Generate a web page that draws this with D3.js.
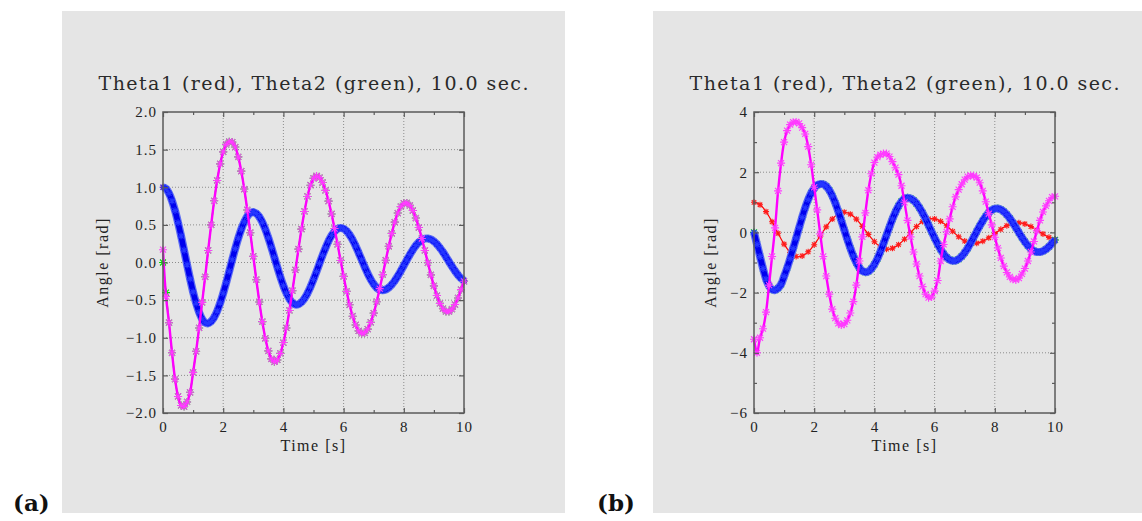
<!DOCTYPE html>
<html>
<head>
<meta charset="utf-8">
<script src="https://cdn.jsdelivr.net/npm/d3@7"></script>
<style>
  body { margin: 0; background: #fff; }
  svg { display: block; }
  .tick text { font-family: "Liberation Serif", serif; font-size: 15px; fill: #222; letter-spacing: 1px; }
  .lbl { font-family: "Liberation Serif", serif; fill: #222; }
  .title { font-family: "DejaVu Serif", serif; fill: #2a2a2a; }
</style>
</head>
<body>
<svg id="chart" width="1142" height="521"></svg>
<script>
// samples every 0.1 s
const tStep = 0.1;

const theta1 = [
  1.000, 0.979, 0.919, 0.820, 0.689, 0.530, 0.353, 0.163, -0.030, -0.218,
  -0.391, -0.541, -0.663, -0.752, -0.800, -0.809, -0.783, -0.728, -0.644, -0.536,
  -0.409, -0.267, -0.116, 0.037, 0.185, 0.322, 0.442, 0.540, 0.613, 0.657,
  0.670, 0.652, 0.607, 0.535, 0.440, 0.327, 0.201, 0.068, -0.065, -0.193,
  -0.309, -0.407, -0.484, -0.536, -0.559, -0.554, -0.527, -0.477, -0.409, -0.324,
  -0.226, -0.121, -0.012, 0.095, 0.195, 0.285, 0.359, 0.414, 0.448, 0.460,
  0.449, 0.418, 0.367, 0.300, 0.219, 0.129, 0.036, -0.058, -0.146, -0.224,
  -0.288, -0.336, -0.363, -0.370, -0.359, -0.333, -0.293, -0.242, -0.180, -0.112,
  -0.040, 0.033, 0.104, 0.168, 0.225, 0.269, 0.301, 0.317, 0.319, 0.306,
  0.280, 0.243, 0.194, 0.138, 0.076, 0.012, -0.051, -0.111, -0.165, -0.209,
  -0.242
];

const theta2 = [
  0.00, -0.40, -0.80, -1.20, -1.55, -1.78, -1.90, -1.915, -1.853, -1.725,
  -1.46, -1.18, -0.87, -0.53, -0.19, 0.16, 0.50, 0.82, 1.09, 1.31,
  1.47, 1.57, 1.605, 1.60, 1.534, 1.403, 1.214, 0.976, 0.698, 0.396,
  0.082, -0.229, -0.524, -0.786, -1.007, -1.175, -1.281, -1.320, -1.295, -1.208,
  -1.064, -0.870, -0.637, -0.375, -0.099, 0.178, 0.443, 0.678, 0.878, 1.027,
  1.119, 1.150, 1.128, 1.063, 0.958, 0.816, 0.645, 0.451, 0.242, 0.027,
  -0.184, -0.384, -0.562, -0.714, -0.830, -0.908, -0.943, -0.935, -0.885, -0.796,
  -0.673, -0.521, -0.347, -0.161, 0.030, 0.216, 0.387, 0.536, 0.657, 0.742,
  0.787, 0.792, 0.759, 0.691, 0.591, 0.465, 0.319, 0.160, -0.004, -0.164,
  -0.311, -0.439, -0.543, -0.614, -0.650, -0.651, -0.620, -0.559, -0.471, -0.361,
  -0.250
];

// the magenta trace of (a) follows theta2 except for its first two samples
const theta2FitStart = [0.17, -0.45];

const omega2 = [
  -3.55, -4.00, -3.50, -3.20, -2.65, -1.75, -0.80, 0.15, 1.38, 2.30,
  3.00, 3.38, 3.58, 3.66, 3.67, 3.62, 3.48, 3.27, 2.85, 2.25,
  1.50, 0.75, -0.05, -0.80, -1.45, -2.05, -2.55, -2.85, -3.02, -3.08,
  -3.05, -2.92, -2.68, -2.30, -1.75, -0.95, -0.15, 0.65, 1.40, 1.95,
  2.32, 2.50, 2.58, 2.62, 2.62, 2.52, 2.35, 2.15, 1.92, 1.55,
  1.00, 0.40, -0.15, -0.65, -1.05, -1.45, -1.80, -2.05, -2.17, -2.15,
  -1.95, -1.60, -0.95, -0.40, 0.02, 0.45, 0.85, 1.18, 1.42, 1.60,
  1.75, 1.85, 1.89, 1.88, 1.82, 1.65, 1.38, 1.02, 0.62, 0.25,
  -0.16, -0.52, -0.85, -1.12, -1.33, -1.48, -1.56, -1.58, -1.52, -1.38,
  -1.20, -0.95, -0.65, -0.30, 0.05, 0.40, 0.68, 0.88, 1.05, 1.17,
  1.20
];

const xTicks = [0, 2, 4, 6, 8, 10];
const xMinor = [1, 3, 5, 7, 9];
const yTicksA = [-2, -1.5, -1, -0.5, 0, 0.5, 1, 1.5, 2];
const yTicksB = [-6, -4, -2, 0, 2, 4];
const yMinorB = [-5, -3, -1, 1, 3];

const titleText = "Theta1 (red), Theta2 (green), 10.0 sec.";
const xLabel = "Time [s]";
const yLabel = "Angle [rad]";

const time = theta1.map((_, i) => +(i * tStep).toFixed(1));
const theta2Fit = theta2.map((v, i) => i < theta2FitStart.length ? theta2FitStart[i] : v);

const svg = d3.select("#chart");

const panels = [
  {
    tag: "(a)", tagX: 13, bg: [62, 11, 503, 502], plot: [163, 112, 464, 413],
    yDomain: [-2, 2], yTicks: yTicksA, yMinor: [], yFormat: d3.format(".1f"), yLabelX: 108,
    series: [
      { values: theta1, color: "#ff0000", width: 1.2, r: 3 },
      { values: theta2, color: "#00e000", width: 1.4, r: 4 },
      { values: theta1, color: "#0000ee", width: 5.5, halo: "#5c6cf2", r: 3.4, mark: "#2536ff" },
      { values: theta2Fit, color: "#ff00ff", width: 2.4, r: 4, mark: "#ff3cff" }
    ]
  },
  {
    tag: "(b)", tagX: 597, bg: [653, 11, 489, 502], plot: [754, 112, 1055, 413],
    yDomain: [-6, 4], yTicks: yTicksB, yMinor: yMinorB, yFormat: d3.format("d"), yLabelX: 716,
    series: [
      { values: theta1, color: "#ff0000", width: 1.2, r: 3, mark: "#ff1a1a", every: 2 },
      { values: theta2, color: "#00e000", width: 1.4, r: 4 },
      { values: theta2, color: "#0000ee", width: 5.5, halo: "#5c6cf2", r: 3.4, mark: "#2536ff" },
      { values: omega2, color: "#ff00ff", width: 2.4, r: 4, mark: "#ff3cff" }
    ]
  }
];

function star(x, y, r) {
  const d = r * 0.75;
  return `M${x - r},${y}L${x + r},${y}M${x},${y - r}L${x},${y + r}` +
         `M${x - d},${y - d}L${x + d},${y + d}M${x - d},${y + d}L${x + d},${y - d}`;
}

function drawPanel(p) {
  const g = svg.append("g");

  g.append("rect")
    .attr("x", p.bg[0]).attr("y", p.bg[1])
    .attr("width", p.bg[2]).attr("height", p.bg[3])
    .attr("fill", "#e5e5e5");

  const x = d3.scaleLinear().domain([0, 10]).range([p.plot[0], p.plot[2]]);
  const y = d3.scaleLinear().domain(p.yDomain).range([p.plot[3], p.plot[1]]);

  // dotted grid
  const grid = g.append("g").attr("stroke", "#8c8c8c").attr("stroke-width", 1)
    .attr("stroke-dasharray", "1,2");
  grid.selectAll(".gx").data(xTicks.slice(1, -1)).join("line")
    .attr("x1", d => x(d)).attr("x2", d => x(d))
    .attr("y1", y.range()[0]).attr("y2", y.range()[1]);
  grid.selectAll(".gy").data(p.yTicks.slice(1, -1)).join("line")
    .attr("y1", d => y(d)).attr("y2", d => y(d))
    .attr("x1", x.range()[0]).attr("x2", x.range()[1]);

  // series
  const line = d3.line()
    .x((d, i) => x(time[i]))
    .y(d => y(d))
    .curve(d3.curveCatmullRom);

  p.series.forEach(s => {
    if (s.halo) {
      g.append("path").datum(s.values).attr("d", line)
        .attr("fill", "none").attr("stroke", s.halo).attr("stroke-width", 8)
        .attr("stroke-linejoin", "round");
    }
    g.append("path").datum(s.values).attr("d", line)
      .attr("fill", "none").attr("stroke", s.color).attr("stroke-width", s.width)
      .attr("stroke-linejoin", "round");
    const every = s.every || 1;
    g.append("path")
      .attr("d", s.values.map((v, i) => i % every ? "" : star(x(time[i]), y(v), s.r)).join(""))
      .attr("fill", "none").attr("stroke", s.mark || s.color).attr("stroke-width", 1.1);
  });

  // frame
  g.append("rect")
    .attr("x", p.plot[0]).attr("y", p.plot[1])
    .attr("width", p.plot[2] - p.plot[0]).attr("height", p.plot[3] - p.plot[1])
    .attr("fill", "none").attr("stroke", "#5a5a5a").attr("stroke-width", 1.5);

  // axes, ticks pointing inward on all sides
  const bottom = g.append("g").attr("transform", `translate(0,${p.plot[3]})`)
    .call(d3.axisBottom(x).tickValues(xTicks).tickSizeInner(-5).tickSizeOuter(0).tickPadding(8));
  const left = g.append("g").attr("transform", `translate(${p.plot[0]},0)`)
    .call(d3.axisLeft(y).tickValues(p.yTicks).tickFormat(p.yFormat).tickSizeInner(-5).tickSizeOuter(0).tickPadding(6));
  const top = g.append("g").attr("transform", `translate(0,${p.plot[1]})`)
    .call(d3.axisTop(x).tickValues(xTicks).tickFormat("").tickSizeInner(-5).tickSizeOuter(0));
  const right = g.append("g").attr("transform", `translate(${p.plot[2]},0)`)
    .call(d3.axisRight(y).tickValues(p.yTicks).tickFormat("").tickSizeInner(-5).tickSizeOuter(0));

  const minors = [
    g.append("g").attr("transform", `translate(0,${p.plot[3]})`)
      .call(d3.axisBottom(x).tickValues(xMinor).tickFormat("").tickSizeInner(-3).tickSizeOuter(0)),
    g.append("g").attr("transform", `translate(0,${p.plot[1]})`)
      .call(d3.axisTop(x).tickValues(xMinor).tickFormat("").tickSizeInner(-3).tickSizeOuter(0)),
    g.append("g").attr("transform", `translate(${p.plot[0]},0)`)
      .call(d3.axisLeft(y).tickValues(p.yMinor).tickFormat("").tickSizeInner(-3).tickSizeOuter(0)),
    g.append("g").attr("transform", `translate(${p.plot[2]},0)`)
      .call(d3.axisRight(y).tickValues(p.yMinor).tickFormat("").tickSizeInner(-3).tickSizeOuter(0))
  ];

  [bottom, left, top, right, ...minors].forEach(a => {
    a.select(".domain").remove();
    a.selectAll(".tick line").attr("stroke", "#5a5a5a").attr("stroke-width", 1.2);
    a.attr("font-family", null).attr("font-size", null);
  });

  const cx = (p.plot[0] + p.plot[2]) / 2;
  const cy = (p.plot[1] + p.plot[3]) / 2;

  g.append("text").attr("class", "title")
    .attr("x", cx).attr("y", 90).attr("text-anchor", "middle")
    .attr("font-size", 19).attr("textLength", 430).attr("lengthAdjust", "spacing")
    .text(titleText);

  g.append("text").attr("class", "lbl")
    .attr("x", cx).attr("y", p.plot[3] + 38).attr("text-anchor", "middle")
    .attr("font-size", 16).attr("letter-spacing", 1.5)
    .text(xLabel);

  g.append("text").attr("class", "lbl")
    .attr("transform", `translate(${p.yLabelX},${cy})rotate(-90)`)
    .attr("text-anchor", "middle")
    .attr("font-size", 16).attr("letter-spacing", 1.5)
    .text(yLabel);

  svg.append("text")
    .attr("x", p.tagX).attr("y", 511)
    .attr("font-family", "DejaVu Serif, serif").attr("font-weight", "bold")
    .attr("font-size", 23).attr("fill", "#111")
    .text(p.tag);
}

panels.forEach(drawPanel);
</script>
</body>
</html>
